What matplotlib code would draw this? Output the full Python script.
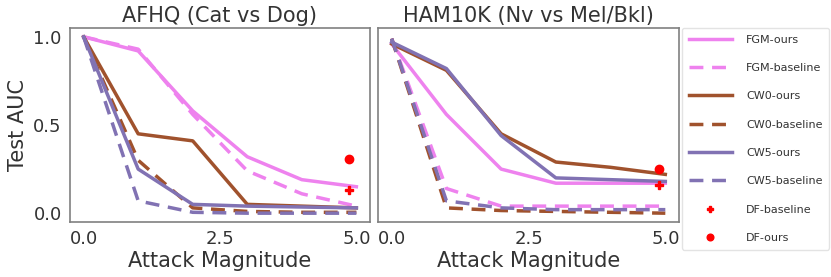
import matplotlib
matplotlib.use("Agg")
import matplotlib.pyplot as plt
import numpy as np

plt.rcParams['font.family'] = ['DejaVu Sans']

magnitudes = [0, 1, 2, 3, 4, 5]

# AFHQ (Cat vs Dog)
afhq_fgm_ours = [1.0, 0.92, 0.58, 0.32, 0.19, 0.15]
afhq_fgm_base = [1.0, 0.93, 0.56, 0.24, 0.11, 0.04]
afhq_cw0_ours = [1.0, 0.45, 0.41, 0.05, 0.04, 0.03]
afhq_cw0_base = [1.0, 0.30, 0.03, 0.01, 0.005, 0.005]
afhq_cw5_ours = [1.0, 0.25, 0.05, 0.04, 0.035, 0.03]
afhq_cw5_base = [1.0, 0.07, 0.005, 0.0, 0.0, 0.0]
afhq_df_x = 4.87
afhq_df_ours = 0.31
afhq_df_base = 0.13

# HAM10K (Nv vs Mel/Bkl)
ham_fgm_ours = [0.96, 0.56, 0.25, 0.17, 0.17, 0.17]
ham_fgm_base = [0.99, 0.14, 0.04, 0.04, 0.04, 0.04]
ham_cw0_ours = [0.96, 0.81, 0.45, 0.29, 0.26, 0.22]
ham_cw0_base = [0.99, 0.03, 0.015, 0.01, 0.005, 0.0]
ham_cw5_ours = [0.97, 0.82, 0.44, 0.20, 0.19, 0.18]
ham_cw5_base = [0.99, 0.07, 0.03, 0.02, 0.02, 0.02]
ham_df_x = 4.89
ham_df_ours = 0.25
ham_df_base = 0.16

titles = ["AFHQ (Cat vs Dog)", "HAM10K (Nv vs Mel/Bkl)"]
xticks = [0.0, 2.5, 5.0]
yticks = [0.0, 0.5, 1.0]

c_fgm = "violet"
c_cw0 = "sienna"
c_cw5 = "#8172B3"
lw = 2.5
txt = "#333333"
dash = (0, (4, 2.5))

fig = plt.figure(figsize=(8.31, 2.77), dpi=100)
ax1 = fig.add_axes([70/831, 55/277, 300/831, 194/277])
ax2 = fig.add_axes([378/831, 55/277, 301/831, 194/277], sharey=ax1)

datasets = [
    (afhq_fgm_ours, afhq_fgm_base, afhq_cw0_ours, afhq_cw0_base, afhq_cw5_ours, afhq_cw5_base,
     afhq_df_x, afhq_df_ours, afhq_df_base),
    (ham_fgm_ours, ham_fgm_base, ham_cw0_ours, ham_cw0_base, ham_cw5_ours, ham_cw5_base,
     ham_df_x, ham_df_ours, ham_df_base),
]

handles = None
for ax, d, title in zip([ax1, ax2], datasets, titles):
    fo, fb, c0o, c0b, c5o, c5b, dfx, dfo, dfb = d
    h1, = ax.plot(magnitudes, fo, color=c_fgm, lw=lw, label="FGM-ours")
    h2, = ax.plot(magnitudes, fb, color=c_fgm, lw=lw, ls=dash, label="FGM-baseline")
    h3, = ax.plot(magnitudes, c0o, color=c_cw0, lw=lw, label="CW0-ours")
    h4, = ax.plot(magnitudes, c0b, color=c_cw0, lw=lw, ls=dash, label="CW0-baseline")
    h5, = ax.plot(magnitudes, c5o, color=c_cw5, lw=lw, label="CW5-ours")
    h6, = ax.plot(magnitudes, c5b, color=c_cw5, lw=lw, ls=dash, label="CW5-baseline")
    h7, = ax.plot([dfx], [dfb], ls="none", marker="P", color="red", ms=6, label="DF-baseline")
    h8, = ax.plot([dfx], [dfo], ls="none", marker="o", color="red", ms=6, label="DF-ours")
    handles = [h1, h2, h3, h4, h5, h6, h7, h8]
    ax.set_title(title, fontsize=15, color=txt, pad=4)
    ax.set_xlabel("Attack Magnitude", fontsize=15, color=txt, labelpad=2)
    ax.set_xticks(xticks)
    ax.set_xticklabels([f"{v:.1f}" for v in xticks])
    ax.tick_params(axis="both", labelsize=13, colors=txt, length=0, pad=6)
    for s in ax.spines.values():
        s.set_color("#808080")
        s.set_linewidth(1.2)

ax1.set_yticks(yticks)
ax1.set_yticklabels([f"{v:.1f}" for v in yticks])
ax1.set_ylabel("Test AUC", fontsize=15, color=txt)
ax2.tick_params(axis="y", labelleft=False)

leg = fig.legend(handles=handles, loc="upper left", bbox_to_anchor=(682/831, 1 - 28/277),
                 borderaxespad=0, fontsize=8, handlelength=3.9, labelspacing=1.65,
                 borderpad=0.6, handletextpad=1.25, frameon=True, fancybox=True,
                 markerscale=0.8)
leg.get_frame().set_edgecolor("#dddddd")
for t in leg.get_texts():
    t.set_color(txt)

fig.savefig("out.png", dpi=100)
